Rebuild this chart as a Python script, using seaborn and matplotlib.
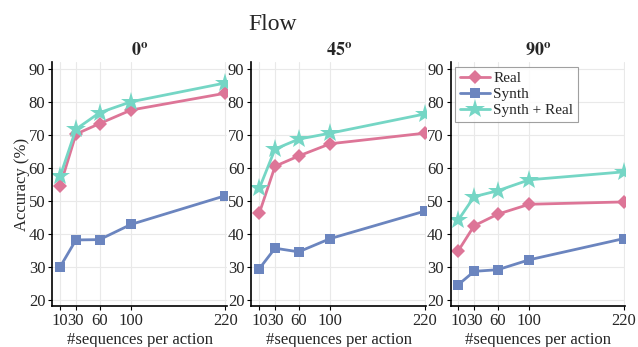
import matplotlib
matplotlib.use("Agg")
import matplotlib.pyplot as plt
import seaborn as sns
import pandas as pd

# data
seqs = [10, 30, 60, 100, 220]
angles = ["0", "45", "90"]

real_0 = [54.6, 70.2, 73.4, 77.5, 82.6]
synth_0 = [30.1, 38.2, 38.3, 42.9, 51.6]
both_0 = [57.5, 71.7, 76.7, 80.0, 85.7]

real_45 = [46.3, 60.5, 63.6, 67.3, 70.5]
synth_45 = [29.5, 35.7, 34.6, 38.6, 46.9]
both_45 = [53.8, 65.7, 68.7, 70.5, 76.3]

real_90 = [35.0, 42.5, 46.0, 49.0, 49.7]
synth_90 = [24.7, 28.7, 29.2, 32.2, 38.6]
both_90 = [44.3, 51.3, 53.1, 56.4, 58.8]

series_names = ["Real", "Synth", "Synth + Real"]
colors = ["#DD7597", "#6B85BF", "#75D6C5"]
markers = ["D", "s", "*"]
msizes = [7.5, 7.5, 15]

data = {
    "0": [real_0, synth_0, both_0],
    "45": [real_45, synth_45, both_45],
    "90": [real_90, synth_90, both_90],
}

sns.set_style("white")
plt.rcParams["font.family"] = ["Liberation Serif"]
plt.rcParams["mathtext.fontset"] = "stix"

fig, axes = plt.subplots(1, 3, figsize=(6.38, 3.47), dpi=100)
fig.subplots_adjust(left=0.082, right=0.98, top=0.82, bottom=0.118, wspace=0.14)

for ax, ang in zip(axes, angles):
    rows = []
    for name, vals in zip(series_names, data[ang]):
        for s, v in zip(seqs, vals):
            rows.append({"seq": s, "acc": v, "series": name})
    df = pd.DataFrame(rows)
    for name, col, mk, ms in zip(series_names, colors, markers, msizes):
        sns.lineplot(data=df[df["series"] == name], x="seq", y="acc", ax=ax,
                     color=col, marker=mk, markersize=ms, markeredgewidth=0,
                     linewidth=2, label=name, legend=False)
    ax.set_xlim(0, 222)
    ax.set_ylim(18.2, 91.9)
    ax.set_xticks(seqs)
    ax.set_xticklabels(["10", "30", "60", "100", "220"])
    ax.set_yticks([20, 30, 40, 50, 60, 70, 80, 90])
    ax.grid(True, color="#e9e9e9", linewidth=0.8)
    ax.set_axisbelow(True)
    for side in ["top", "right"]:
        ax.spines[side].set_visible(False)
    for side in ["left", "bottom"]:
        ax.spines[side].set_color("black")
        ax.spines[side].set_linewidth(1.2)
    ax.tick_params(axis="both", direction="out", length=3, width=0.8,
                   labelsize=12, pad=2, color="black", bottom=True, left=True)
    ax.set_title(r"$\mathbf{" + ang + "^o}$", fontsize=13, pad=5)
    ax.set_xlabel("#sequences per action", fontsize=12, labelpad=2)
    ax.set_ylabel("")

axes[0].set_ylabel("Accuracy (%)", fontsize=12, labelpad=-1)

leg = axes[2].legend(loc="upper left", fontsize=11, frameon=True, fancybox=False,
                     borderpad=0.3, handlelength=2.0, handletextpad=0.2,
                     labelspacing=0.15, borderaxespad=0.3)
leg.get_frame().set_edgecolor("#888888")
leg.get_frame().set_linewidth(0.8)

fig.text(0.427, 0.93, "Flow", ha="center", va="center", fontsize=17)

fig.savefig("out.png", dpi=100)
